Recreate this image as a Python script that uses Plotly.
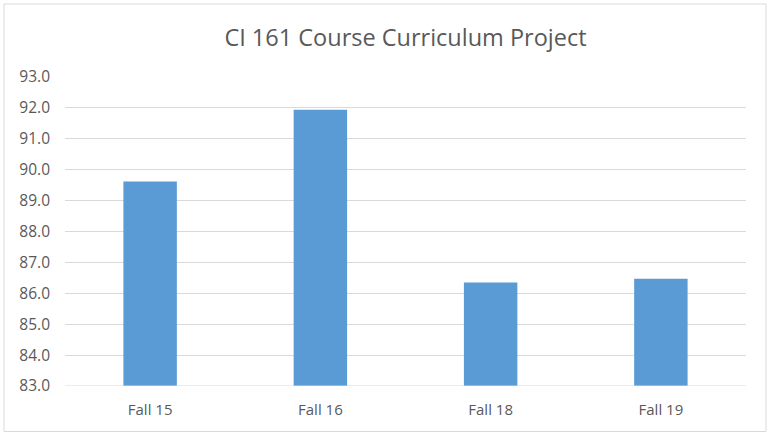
import plotly.graph_objects as go

categories = ["Fall 15", "Fall 16", "Fall 18", "Fall 19"]
scores = [89.62, 91.94, 86.35, 86.47]
y_ticks = [83, 84, 85, 86, 87, 88, 89, 90, 91, 92, 93]

W, H = 768, 433
L, R, T, B = 65, 22, 77, 47

fig = go.Figure(go.Bar(x=categories, y=scores, marker=dict(color="#5B9BD5", line=dict(width=0)),
                       width=0.314))

fig.update_layout(
    width=W, height=H,
    margin=dict(l=L, r=R, t=T, b=B),
    paper_bgcolor="white", plot_bgcolor="white",
    title=dict(text="CI 161 Course Curriculum Project", x=0.5, xref="paper", xanchor="center",
               y=1 - 38 / H, yanchor="middle",
               font=dict(family="Open Sans", size=23.5, color="#595959")),
    font=dict(family="Open Sans", size=15, color="#595959"),
    showlegend=False,
    xaxis=dict(showgrid=False, showline=False, ticks="", ticklabelstandoff=13,
               tickfont=dict(size=15, color="#595959")),
    yaxis=dict(range=[83, 93], tickvals=y_ticks, ticktext=[f"{v:.1f}" for v in y_ticks],
               showgrid=True, gridcolor="#D9D9D9", gridwidth=1, zeroline=False, showline=False,
               ticks="", ticklabelstandoff=14, tickfont=dict(size=15.5, color="#595959")),
    shapes=[dict(type="line", xref="paper", yref="y", x0=0, x1=1, y0=83, y1=83,
                 line=dict(color="#D9D9D9", width=1)),
            dict(type="rect", xref="paper", yref="paper",
                 x0=(4 - L) / (W - L - R), x1=(766 - L) / (W - L - R),
                 y0=-(B - 1.5) / (H - T - B),
                 y1=1 + (T - 4) / (H - T - B),
                 line=dict(color="#D9D9D9", width=1), fillcolor="rgba(0,0,0,0)", layer="below")],
)

fig.write_html("out.html", config={"displayModeBar": False},
               post_script="document.body.style.margin='0';document.body.style.padding='0';")
